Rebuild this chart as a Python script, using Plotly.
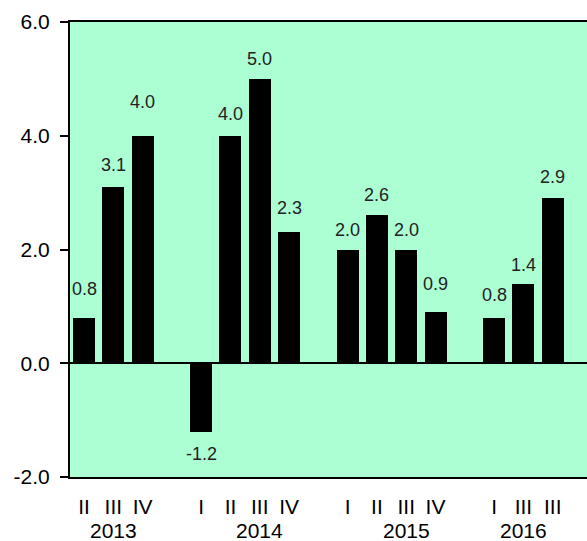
import plotly.graph_objects as go

# Data
quarters = ["II", "III", "IV", "I", "II", "III", "IV", "I", "II", "III", "IV", "I", "III", "III"]
slots = [0, 1, 2, 4, 5, 6, 7, 9, 10, 11, 12, 14, 15, 16]
values = [0.8, 3.1, 4.0, -1.2, 4.0, 5.0, 2.3, 2.0, 2.6, 2.0, 0.9, 0.8, 1.4, 2.9]
years = ["2013", "2014", "2015", "2016"]
year_slots = [1, 6, 11, 15]
ytick_vals = [-2, 0, 2, 4, 6]
ytick_text = ["-2.0", "0.0", "2.0", "4.0", "6.0"]

# Style: pixel gap of each value label from its bar end
label_gaps = [17, 10, 22, 10, 10, 8, 12, 8, 8, 8, 16, 11, 7, 9]

FONT = "Liberation Sans, Arial, sans-serif"

fig = go.Figure()
fig.add_trace(go.Bar(
    x=slots, y=values, width=0.75,
    marker=dict(color="black", line=dict(width=0)),
    hoverinfo="skip",
))

annotations = []
for s, v, g in zip(slots, values, label_gaps):
    annotations.append(dict(
        x=s, y=v, xref="x", yref="y", text=f"{v:.1f}", showarrow=False,
        yanchor="bottom" if v >= 0 else "top",
        yshift=g if v >= 0 else -g,
        font=dict(family=FONT, size=18, color="#222222"),
    ))
for s, yr in zip(year_slots, years):
    annotations.append(dict(
        x=s, y=0, xref="x", yref="paper", text=yr, showarrow=False,
        yanchor="top", yshift=-40,
        font=dict(family=FONT, size=21, color="black"),
    ))

fig.update_layout(
    width=587, height=541,
    margin=dict(l=70, r=0, t=22, b=64),
    paper_bgcolor="white",
    plot_bgcolor="#acfed3",
    showlegend=False,
    bargap=0,
    annotations=annotations,
    font=dict(family=FONT, size=21, color="black"),
)
fig.update_xaxes(
    range=[-0.478, 17.17],
    tickmode="array", tickvals=slots, ticktext=quarters,
    ticks="", showgrid=False, zeroline=False,
    showline=True, linecolor="black", linewidth=2, mirror=True,
    ticklabelstandoff=10,
    tickfont=dict(family=FONT, size=21, color="black"),
)
fig.update_yaxes(
    range=[-2, 6], tickmode="array", tickvals=ytick_vals, ticktext=ytick_text,
    ticks="outside", ticklen=8, tickwidth=2, tickcolor="black",
    showgrid=False, zeroline=True, zerolinecolor="black", zerolinewidth=2,
    showline=True, linecolor="black", linewidth=2,
    ticklabelstandoff=6,
    tickfont=dict(family=FONT, size=21, color="black"),
)

fig.write_html(
    "out.html",
    config={"displayModeBar": False},
    post_script="document.body.style.margin='0';document.body.style.overflow='hidden';",
)
